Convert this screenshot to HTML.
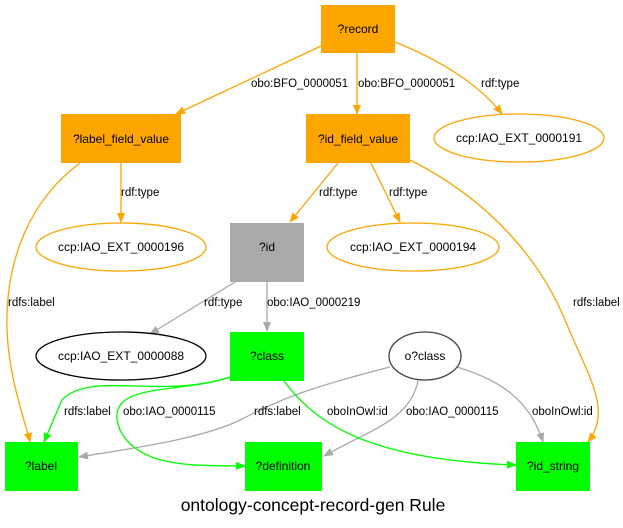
<!DOCTYPE html>
<html><head><style>
html,body{margin:0;padding:0;background:#fff;}
svg{display:block;font-family:"Liberation Sans",Arial,sans-serif;}
</style></head><body>
<svg width="623" height="528" viewBox="0 0 623 528" xmlns="http://www.w3.org/2000/svg">
<defs>
<marker id="mo" markerWidth="10" markerHeight="8" refX="9" refY="4" orient="auto" markerUnits="userSpaceOnUse"><path d="M0,0 L10,4 L0,8z" fill="#FFA500"/></marker>
<marker id="mg" markerWidth="10" markerHeight="8" refX="9" refY="4" orient="auto" markerUnits="userSpaceOnUse"><path d="M0,0 L10,4 L0,8z" fill="#A9A9A9"/></marker>
<marker id="ml" markerWidth="10" markerHeight="8" refX="9" refY="4" orient="auto" markerUnits="userSpaceOnUse"><path d="M0,0 L10,4 L0,8z" fill="#00FF00"/></marker>
</defs>
<g fill="none" stroke-width="1.3">
<path d="M321,46 L176,114" stroke="#FFA500" marker-end="url(#mo)"/>
<path d="M357,53 L357,114" stroke="#FFA500" marker-end="url(#mo)"/>
<path d="M395,42 C440,60 480,85 502,114" stroke="#FFA500" marker-end="url(#mo)"/>
<path d="M121,163 L121,222" stroke="#FFA500" marker-end="url(#mo)"/>
<path d="M80,163 C30,200 5,260 7,330 C9,380 25,420 30,442" stroke="#FFA500" marker-end="url(#mo)"/>
<path d="M338,163 L290,222" stroke="#FFA500" marker-end="url(#mo)"/>
<path d="M371,163 L400,222" stroke="#FFA500" marker-end="url(#mo)"/>
<path d="M410,160 C490,200 540,260 565,320 C590,380 612,410 588,442" stroke="#FFA500" marker-end="url(#mo)"/>
<path d="M235,282 L150,334" stroke="#A9A9A9" marker-end="url(#mg)"/>
<path d="M267,282 L267,331" stroke="#A9A9A9" marker-end="url(#mg)"/>
<path d="M390,367 C300,390 280,400 240,420 C200,440 120,450 79,457" stroke="#A9A9A9" marker-end="url(#mg)"/>
<path d="M418,381 C410,420 370,430 324,456" stroke="#A9A9A9" marker-end="url(#mg)"/>
<path d="M457,367 C500,380 530,400 543,442" stroke="#A9A9A9" marker-end="url(#mg)"/>
<path d="M230,377 C160,400 90,370 62,400 L44,442" stroke="#00FF00" marker-end="url(#ml)"/>
<path d="M230,377 C180,395 100,380 120,430 C140,470 200,465 245,466" stroke="#00FF00" marker-end="url(#ml)"/>
<path d="M284,381 C320,430 380,460 516,465" stroke="#00FF00" marker-end="url(#ml)"/>
</g>
<rect x="321" y="5" width="74" height="48" fill="#FFA500"/>
<rect x="61" y="114" width="120" height="49" fill="#FFA500"/>
<rect x="306" y="114" width="104" height="49" fill="#FFA500"/>
<rect x="230" y="223" width="74" height="59" fill="#A9A9A9"/>
<rect x="230" y="332" width="74" height="49" fill="#00FF00"/>
<rect x="5" y="442" width="73" height="49" fill="#00FF00"/>
<rect x="245" y="442" width="77" height="49" fill="#00FF00"/>
<rect x="516" y="442" width="74" height="49" fill="#00FF00"/>
<g fill="none" stroke-width="1.3">
<ellipse cx="519" cy="138" rx="85" ry="24" stroke="#FFA500"/>
<ellipse cx="121" cy="247" rx="85" ry="24" stroke="#FFA500"/>
<ellipse cx="413" cy="247" rx="86" ry="24" stroke="#FFA500"/>
<ellipse cx="121" cy="356" rx="85" ry="24" stroke="#000"/>
<ellipse cx="425" cy="356" rx="36" ry="24" stroke="#444"/>
</g>
<g font-size="12" text-anchor="middle" fill="#000">
<text x="358" y="33">?record</text>
<text x="121" y="143">?label_field_value</text>
<text x="358" y="143">?id_field_value</text>
<text x="519" y="142">ccp:IAO_EXT_0000191</text>
<text x="121" y="251">ccp:IAO_EXT_0000196</text>
<text x="267" y="251">?id</text>
<text x="413" y="251">ccp:IAO_EXT_0000194</text>
<text x="121" y="360">ccp:IAO_EXT_0000088</text>
<text x="267" y="360">?class</text>
<text x="425" y="360">o?class</text>
<text x="41" y="470">?label</text>
<text x="283" y="470">?definition</text>
<text x="553" y="470">?id_string</text>
</g>
<g font-size="11.5" fill="#000">
<text x="251" y="87">obo:BFO_0000051</text>
<text x="358" y="87">obo:BFO_0000051</text>
<text x="481" y="87">rdf:type</text>
<text x="121" y="196">rdf:type</text>
<text x="319" y="196">rdf:type</text>
<text x="389" y="196">rdf:type</text>
<text x="8" y="306">rdfs:label</text>
<text x="204" y="306">rdf:type</text>
<text x="267" y="306">obo:IAO_0000219</text>
<text x="573" y="306">rdfs:label</text>
<text x="64" y="415">rdfs:label</text>
<text x="123" y="415">obo:IAO_0000115</text>
<text x="254" y="415">rdfs:label</text>
<text x="327" y="415">oboInOwl:id</text>
<text x="406" y="415">obo:IAO_0000115</text>
<text x="532" y="415">oboInOwl:id</text>
</g>
<text x="313" y="511" font-size="17.5" text-anchor="middle" fill="#000">ontology-concept-record-gen Rule</text>
</svg>
</body></html>
